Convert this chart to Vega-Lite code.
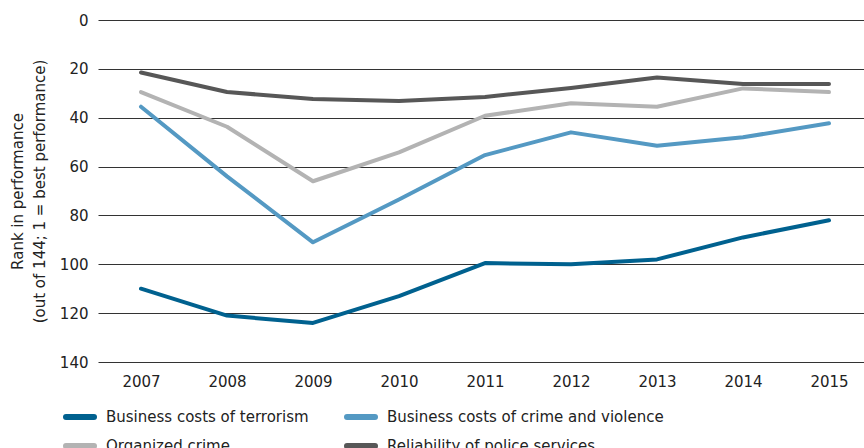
{
  "$schema": "https://vega.github.io/schema/vega-lite/v6.json",
  "autosize": {"type": "none"},
  "width": 766,
  "height": 342,
  "padding": {"left": 98, "top": 20, "right": 0, "bottom": 86},
  "background": "white",
  "config": {
    "view": {"stroke": null},
    "font": "DejaVu Sans",
    "axis": {"labelFont": "DejaVu Sans", "titleFont": "DejaVu Sans", "labelColor": "#222", "titleColor": "#222"},
    "legend": {"labelFont": "DejaVu Sans"}
  },
  "data": {
    "values": [
      {"year": 2007, "series": "Business costs of terrorism", "rank": 110},
      {"year": 2008, "series": "Business costs of terrorism", "rank": 121},
      {"year": 2009, "series": "Business costs of terrorism", "rank": 124},
      {"year": 2010, "series": "Business costs of terrorism", "rank": 113},
      {"year": 2011, "series": "Business costs of terrorism", "rank": 99.5},
      {"year": 2012, "series": "Business costs of terrorism", "rank": 100},
      {"year": 2013, "series": "Business costs of terrorism", "rank": 98},
      {"year": 2014, "series": "Business costs of terrorism", "rank": 89},
      {"year": 2015, "series": "Business costs of terrorism", "rank": 82},
      {"year": 2007, "series": "Business costs of crime and violence", "rank": 35.5},
      {"year": 2008, "series": "Business costs of crime and violence", "rank": 64},
      {"year": 2009, "series": "Business costs of crime and violence", "rank": 91},
      {"year": 2010, "series": "Business costs of crime and violence", "rank": 73.5},
      {"year": 2011, "series": "Business costs of crime and violence", "rank": 55.3},
      {"year": 2012, "series": "Business costs of crime and violence", "rank": 46},
      {"year": 2013, "series": "Business costs of crime and violence", "rank": 51.5},
      {"year": 2014, "series": "Business costs of crime and violence", "rank": 48},
      {"year": 2015, "series": "Business costs of crime and violence", "rank": 42.3},
      {"year": 2007, "series": "Organized crime", "rank": 29.5},
      {"year": 2008, "series": "Organized crime", "rank": 43.7},
      {"year": 2009, "series": "Organized crime", "rank": 66},
      {"year": 2010, "series": "Organized crime", "rank": 54.2},
      {"year": 2011, "series": "Organized crime", "rank": 39.2},
      {"year": 2012, "series": "Organized crime", "rank": 34.1},
      {"year": 2013, "series": "Organized crime", "rank": 35.5},
      {"year": 2014, "series": "Organized crime", "rank": 28},
      {"year": 2015, "series": "Organized crime", "rank": 29.5},
      {"year": 2007, "series": "Reliability of police services", "rank": 21.5},
      {"year": 2008, "series": "Reliability of police services", "rank": 29.5},
      {"year": 2009, "series": "Reliability of police services", "rank": 32.3},
      {"year": 2010, "series": "Reliability of police services", "rank": 33.2},
      {"year": 2011, "series": "Reliability of police services", "rank": 31.5},
      {"year": 2012, "series": "Reliability of police services", "rank": 27.8},
      {"year": 2013, "series": "Reliability of police services", "rank": 23.5},
      {"year": 2014, "series": "Reliability of police services", "rank": 26.2},
      {"year": 2015, "series": "Reliability of police services", "rank": 26.2}
    ]
  },
  "mark": {"type": "line", "strokeWidth": 4, "strokeCap": "round", "strokeJoin": "round"},
  "encoding": {
    "x": {
      "field": "year",
      "type": "quantitative",
      "scale": {"domain": [2006.5, 2015.407], "nice": false, "zero": false},
      "axis": {
        "values": [2007, 2008, 2009, 2010, 2011, 2012, 2013, 2014, 2015],
        "format": "d",
        "title": null,
        "grid": false,
        "domain": false,
        "ticks": false,
        "labelFontSize": 15,
        "labelPadding": 12
      }
    },
    "y": {
      "field": "rank",
      "type": "quantitative",
      "scale": {"domain": [0, 140], "reverse": true, "nice": false},
      "axis": {
        "values": [0, 20, 40, 60, 80, 100, 120, 140],
        "title": ["Rank in performance", "(out of 144; 1 = best performance)"],
        "titleFontSize": 15,
        "titleFontWeight": "normal",
        "titleLineHeight": 22,
        "titlePadding": 12,
        "domain": false,
        "ticks": false,
        "labelFontSize": 15,
        "labelPadding": 10,
        "grid": true,
        "gridColor": "#333",
        "gridWidth": 1,
        "gridOpacity": 1
      }
    },
    "color": {
      "field": "series",
      "type": "nominal",
      "sort": ["Business costs of terrorism", "Business costs of crime and violence", "Organized crime", "Reliability of police services"],
      "scale": {
        "domain": ["Business costs of terrorism", "Business costs of crime and violence", "Organized crime", "Reliability of police services"],
        "range": ["#00618f", "#5499c3", "#b3b3b3", "#575757"]
      },
      "legend": {
        "title": null,
        "orient": "none",
        "direction": "horizontal",
        "legendX": -35,
        "legendY": 380,
        "columns": 2,
        "columnPadding": 26,
        "rowPadding": -11,
        "symbolType": "stroke",
        "symbolSize": 784,
        "symbolStrokeWidth": 6,
        "labelFontSize": 15,
        "labelColor": "#222",
        "labelOffset": 9,
        "labelLimit": 400,
        "encode": {"symbols": {"update": {"strokeCap": {"value": "round"}}}}
      }
    }
  }
}
